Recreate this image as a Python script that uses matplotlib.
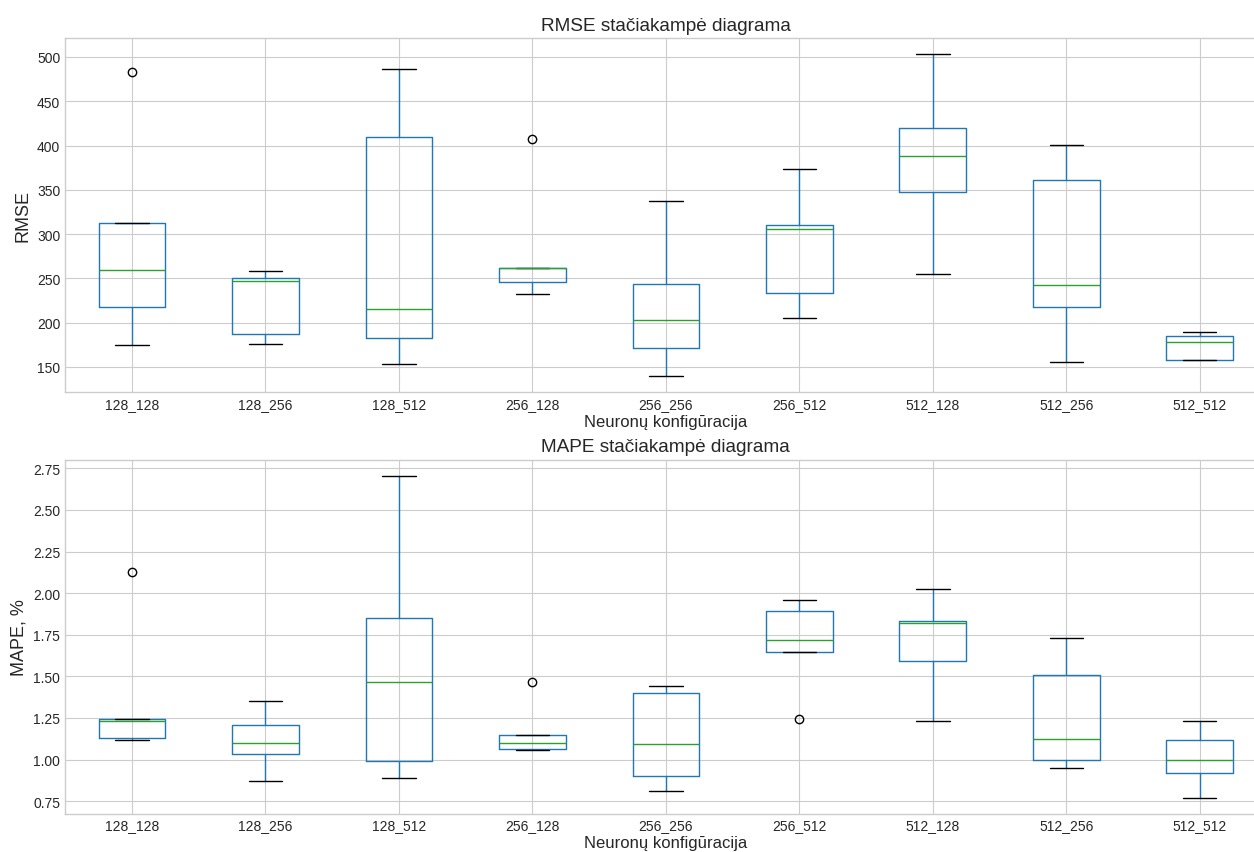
import matplotlib
matplotlib.use("Agg")
import matplotlib.pyplot as plt

plt.style.use("seaborn-v0_8-whitegrid")
plt.rcParams["font.family"] = ["Liberation Sans", "DejaVu Sans"]

configs = ["128_128", "128_256", "128_512", "256_128", "256_256",
           "256_512", "512_128", "512_256", "512_512"]

# RMSE box statistics
rmse_whislo = [174.4, 176.0, 153.0, 232.4, 139.5, 205.7, 255.0, 155.6, 158.3]
rmse_q1 = [217.4, 187.6, 182.3, 245.6, 171.8, 233.5, 348.0, 217.7, 158.3]
rmse_med = [259.0, 247.1, 215.8, 261.8, 202.7, 306.2, 388.2, 243.0, 178.6]
rmse_q3 = [313.0, 250.9, 409.7, 261.8, 244.1, 310.3, 419.5, 361.5, 185.3]
rmse_whishi = [313.0, 258.0, 486.8, 261.8, 337.4, 373.5, 503.0, 400.6, 189.1]
rmse_fliers = [[482.7], [], [], [407.4], [], [], [], [], []]

# MAPE box statistics
mape_whislo = [1.115, 0.872, 0.892, 1.060, 0.814, 1.646, 1.229, 0.950, 0.772]
mape_q1 = [1.129, 1.031, 0.994, 1.065, 0.900, 1.646, 1.590, 1.000, 0.922]
mape_med = [1.231, 1.101, 1.465, 1.101, 1.095, 1.718, 1.818, 1.121, 1.000]
mape_q3 = [1.245, 1.209, 1.852, 1.145, 1.401, 1.894, 1.832, 1.508, 1.115]
mape_whishi = [1.245, 1.351, 2.706, 1.145, 1.445, 1.960, 2.025, 1.730, 1.229]
mape_fliers = [[2.125], [], [], [1.465], [], [1.243], [], [], []]


def make_stats(lo, q1, med, q3, hi, fl):
    return [dict(label=c, whislo=a, q1=b, med=m, q3=d, whishi=e, fliers=f)
            for c, a, b, m, d, e, f in zip(configs, lo, q1, med, q3, hi, fl)]


def draw(ax, stats, title, ylabel):
    ax.bxp(stats, positions=range(1, len(stats) + 1), widths=0.5,
           boxprops=dict(color="C0"), whiskerprops=dict(color="C0"),
           capprops=dict(color="k"), medianprops=dict(color="C2"),
           flierprops=dict(marker="o", markerfacecolor="none",
                           markeredgecolor="k"))
    ax.set_title(title, fontsize=13.7)
    ax.set_xlabel("Neuronų konfigūracija", fontsize=12, labelpad=2)
    ax.set_ylabel(ylabel, fontsize=13)
    ax.tick_params(labelsize=10)
    ax.grid(True, axis="both")


fig, (ax1, ax2) = plt.subplots(2, 1, figsize=(12.54, 8.53), dpi=100)
# the original picture is cropped on the right, so the axes run past the edge
fig.subplots_adjust(left=0.052, right=1.010, top=0.954, bottom=0.045,
                    hspace=0.19)

draw(ax1, make_stats(rmse_whislo, rmse_q1, rmse_med, rmse_q3, rmse_whishi,
                     rmse_fliers), "RMSE stačiakampė diagrama", "RMSE")
draw(ax2, make_stats(mape_whislo, mape_q1, mape_med, mape_q3, mape_whishi,
                     mape_fliers), "MAPE stačiakampė diagrama", "MAPE, %")
ax2.set_yticks([0.75, 1.0, 1.25, 1.5, 1.75, 2.0, 2.25, 2.5, 2.75])

plt.savefig("out.png")
